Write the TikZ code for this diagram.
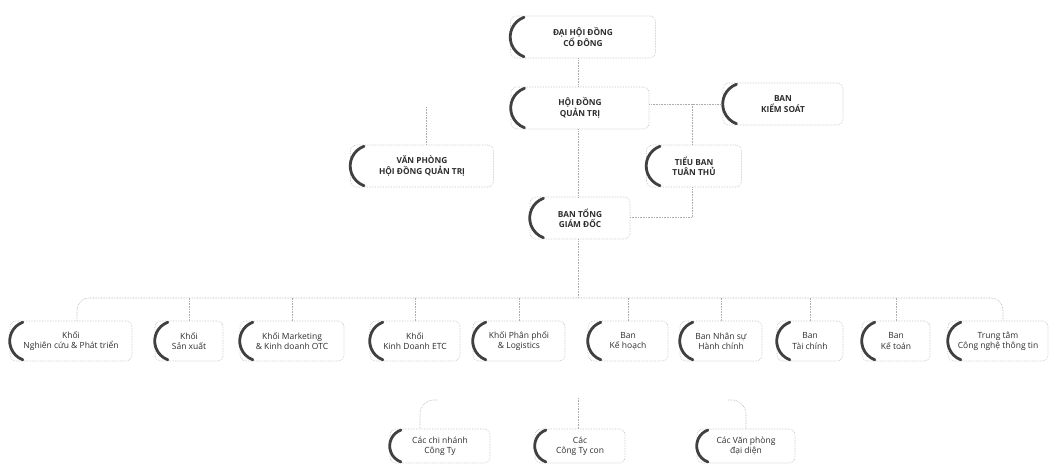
\documentclass[tikz,border=0pt]{standalone}
\usepackage{fontspec}
\setmainfont{Open Sans}
\usetikzlibrary{calc}
\tikzset{
  box/.style={draw=gray!50, densely dotted, line width=0.6pt, rounded corners=6pt,
    align=center, font=\fontsize{8.5}{10}\selectfont, text=black!82, inner sep=1pt},
  topbox/.style={box, minimum height=42pt, font=\fontsize{8.3}{10.5}\selectfont\bfseries},
  rowbox/.style={box, minimum height=40pt},
  botbox/.style={box, minimum height=34pt},
  conn/.style={draw=gray!65, densely dotted, line width=0.6pt},
  brk/.style={draw=black!75, line width=2.8pt, line cap=round}
}
\begin{document}
\begin{tikzpicture}[x=1pt,y=-1pt]
\useasboundingbox[fill=white] (0,0) rectangle (1049,464);
% top levels
\node[topbox, minimum width=145pt] (A) at (583,37) {ĐẠI HỘI ĐỒNG\\CỔ ĐÔNG};
\node[topbox, minimum width=138pt] (B) at (580,108) {HỘI ĐỒNG\\QUẢN TRỊ};
\node[topbox, minimum width=120pt] (C) at (783,104) {BAN\\KIỂM SOÁT};
\node[topbox, minimum width=143pt] (D) at (422,166) {VĂN PHÒNG\\HỘI ĐỒNG QUẢN TRỊ};
\node[topbox, minimum width=95pt] (E) at (694,166) {TIỂU BAN\\TUÂN THỦ};
\node[topbox, minimum width=100pt] (F) at (580,218) {BAN TỔNG\\GIÁM ĐỐC};
% row
\node[rowbox, minimum width=122pt] (n1) at (71,341) {Khối\\Nghiên cứu \& Phát triển};
\node[rowbox, minimum width=68pt] (n2) at (189,341) {Khối\\Sản xuất};
\node[rowbox, minimum width=104pt] (n3) at (292,341) {Khối Marketing\\\& Kinh doanh OTC};
\node[rowbox, minimum width=90pt] (n4) at (415,341) {Khối\\Kinh Doanh ETC};
\node[rowbox, minimum width=92pt] (n5) at (519,341) {Khối Phân phối\\\& Logistics};
\node[rowbox, minimum width=80pt] (n6) at (628,341) {Ban\\Kế hoạch};
\node[rowbox, minimum width=82pt] (n7) at (721,341) {Ban Nhân sự\\Hành chính};
\node[rowbox, minimum width=66pt] (n8) at (810,341) {Ban\\Tài chính};
\node[rowbox, minimum width=68pt] (n9) at (896,341) {Ban\\Kế toán};
\node[rowbox, minimum width=100pt] (n10) at (998,341) {Trung tâm\\Công nghệ thông tin};
% bottom
\node[botbox, minimum width=100pt] (G1) at (440,446) {Các chi nhánh\\Công Ty};
\node[botbox, minimum width=90pt] (G2) at (580,446) {Các\\Công Ty con};
\node[botbox, minimum width=98pt] (G3) at (746,446) {Các Văn phòng\\đại diện};
% brackets
\foreach \n/\r in {A/21,B/21,C/21,D/21,E/21,F/21,n1/20,n2/20,n3/20,n4/20,n5/20,n6/20,n7/20,n8/20,n9/20,n10/20,G1/17,G2/17,G3/17}
  \draw[brk] (\n.west) ++(\r pt,0pt) ++(110:\r pt) arc[start angle=110,end angle=250,radius=\r pt];
% connectors
\coordinate (bus) at (0,298);
\coordinate (vptop) at (426,107);
\coordinate (bks) at (692,0);
\coordinate (low) at (0,217);
\draw[conn] (A.south -| 578,0) -- (B.north -| 578,0);
\draw[conn] (B.south -| 578,0) -- (F.north -| 578,0);
\draw[conn] (B.east |- C.west) -- (C.west);
\draw[conn] (bks |- C.west) -- (bks |- E.north);
\draw[conn] (bks |- E.south) -- (bks |- low) -- (F.east |- low);
\draw[conn] (vptop) -- (vptop |- D.north);
\draw[conn] (F.south -| 578,0) -- (578,298);
\draw[conn, rounded corners=12pt] ([xshift=6pt]n1.north) -- ([xshift=6pt]n1.north |- bus) -- ([xshift=5pt]n10.north |- bus) -- ([xshift=5pt]n10.north);
\foreach \n in {n2,n3,n4,n5,n6,n7,n8,n9}
  \draw[conn] (\n.north) -- (\n.north |- bus);
\coordinate (b1) at (437,400);
\coordinate (b2) at (578,398);
\coordinate (b3) at (728,400);
\draw[conn, rounded corners=14pt] (b1) -- ([xshift=-20pt]G1.north |- b1) -- ([xshift=-20pt]G1.north);
\draw[conn] (b2) -- (G2.north -| b2);
\draw[conn, rounded corners=14pt] (b3) -- (G3.north |- b3) -- (G3.north);
\end{tikzpicture}
\end{document}
